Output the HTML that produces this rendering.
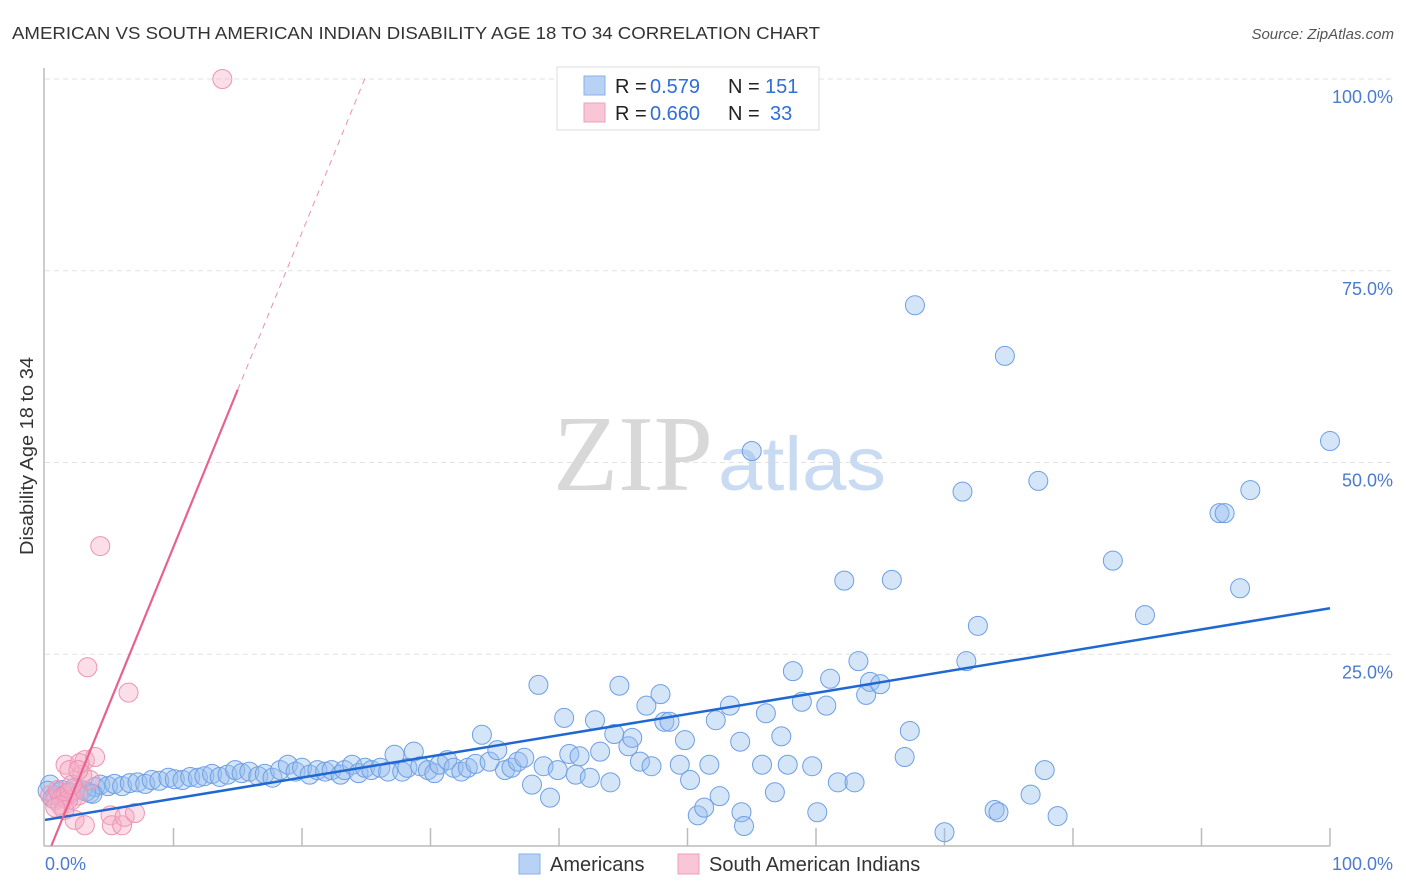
<!DOCTYPE html>
<html><head><meta charset="utf-8"><style>
body{margin:0;background:#fff;font-family:"Liberation Sans",sans-serif;}
#wrap{position:relative;width:1406px;height:892px;overflow:hidden;}
</style></head><body>
<div id="wrap">
<svg id="svg" width="1406" height="892" xmlns="http://www.w3.org/2000/svg">
<text x="12" y="39" font-size="17.5" fill="#333" textLength="808" lengthAdjust="spacingAndGlyphs">AMERICAN VS SOUTH AMERICAN INDIAN DISABILITY AGE 18 TO 34 CORRELATION CHART</text>
<text x="1394" y="39" font-size="15" fill="#555" font-style="italic" text-anchor="end">Source: ZipAtlas.com</text>
<text x="33" y="456" font-size="18" fill="#333" text-anchor="middle" textLength="198" lengthAdjust="spacingAndGlyphs" transform="rotate(-90 33 456)">Disability Age 18 to 34</text>
<g id="grid"></g>
<text x="553" y="490" font-size="108" fill="#d8d8d8" font-family="Liberation Serif,serif" textLength="160" lengthAdjust="spacingAndGlyphs">ZIP</text>
<text x="718" y="490" font-size="76" fill="#c9daf3" textLength="168" lengthAdjust="spacingAndGlyphs">atlas</text>
<g id="marks"></g>
<g>
<rect x="557" y="67" width="262" height="63" fill="#fff" stroke="#ddd"/>
<rect x="584" y="76" width="21" height="19" fill="#b8d2f5" stroke="#8ab0e8"/>
<rect x="584" y="103" width="21" height="19" fill="#f9c6d6" stroke="#ef9fbb"/>
<text x="615" y="93" font-size="20" fill="#222">R = <tspan x="650" fill="#2f6fd6">0.579</tspan></text>
<text x="728" y="93" font-size="20" fill="#222">N = <tspan x="765" fill="#2f6fd6">151</tspan></text>
<text x="615" y="120" font-size="20" fill="#222">R = <tspan x="650" fill="#2f6fd6">0.660</tspan></text>
<text x="728" y="120" font-size="20" fill="#222">N = <tspan x="770" fill="#2f6fd6">33</tspan></text>
</g>
<g>
<rect x="519" y="854" width="21" height="20" fill="#b8d2f5" stroke="#8ab0e8"/>
<text x="550" y="871" font-size="20" fill="#333">Americans</text>
<rect x="678" y="854" width="21" height="20" fill="#f9c6d6" stroke="#ef9fbb"/>
<text x="709" y="871" font-size="20" fill="#333">South American Indians</text>
</g>
<text x="45" y="870" font-size="18" fill="#4a7bd0">0.0%</text>
<text x="1393" y="870" font-size="18" fill="#4a7bd0" text-anchor="end">100.0%</text>
</svg>
</div>
<script>
const yTicks=[25,50,75,100];
const yTickLabels=["25.0%","50.0%","75.0%","100.0%"];
const blueX=[0.4,0.8,1.3,1.8,2.3,2.9,3.5,3.9,4.3,4.9,5.4,6.0,6.6,7.2,7.8,8.3,8.9,9.6,10.1,10.7,11.3,11.9,12.4,13.0,13.6,14.2,14.8,15.3,15.9,16.6,17.1,17.7,18.3,18.9,19.5,20.0,20.6,21.2,21.8,22.3,23.0,23.3,23.9,24.4,24.9,25.4,26.1,26.7,27.2,27.8,28.2,28.7,29.2,29.8,30.3,30.7,31.3,31.8,32.4,32.9,33.5,34.0,34.6,35.2,35.8,36.3,36.8,37.3,37.9,38.4,38.8,39.3,39.9,40.4,40.8,41.3,41.6,42.4,42.8,43.2,44.0,44.3,44.7,45.4,45.7,46.3,46.8,47.2,47.9,48.2,48.6,49.4,49.8,50.2,50.8,51.3,51.7,52.2,52.5,53.3,54.1,54.2,54.4,55.0,55.8,56.1,56.8,57.3,57.8,58.2,58.9,59.7,60.1,60.8,61.1,61.7,62.2,63.0,63.3,63.9,64.2,65.0,65.9,66.9,67.3,67.7,70.0,71.4,71.7,72.6,73.9,74.2,74.7,76.7,77.3,77.8,78.8,83.1,85.6,91.4,91.8,93.0,93.8,100,0.2,0.6,1.1,1.5,2.0,3.2,3.7];
const blueY=[8.0,6.6,7.3,7.0,7.6,7.3,6.9,7.7,8.0,7.8,8.1,7.8,8.2,8.3,8.1,8.6,8.5,8.9,8.7,8.6,9.0,8.9,9.1,9.4,9.0,9.3,9.9,9.5,9.7,9.1,9.4,8.9,9.9,10.6,9.7,10.2,9.3,9.9,9.7,9.9,9.3,9.9,10.6,9.5,10.2,9.9,10.2,9.7,11.9,9.7,10.2,12.3,10.4,9.9,9.5,10.6,11.2,10.2,9.7,10.2,10.7,14.5,11.0,12.5,9.9,10.2,11.0,11.5,8.0,21.0,10.4,6.3,9.9,16.7,12.0,9.3,11.7,8.9,16.4,12.3,8.3,14.6,20.9,13.0,14.1,11.0,18.3,10.4,19.8,16.2,16.2,10.6,13.8,8.6,4.0,5.0,10.6,16.4,6.5,18.3,13.6,4.4,2.6,51.5,10.6,17.3,7.0,14.3,10.6,22.8,18.8,10.4,4.4,18.3,21.8,8.3,34.6,8.3,24.1,19.7,21.4,21.1,34.7,11.6,15.0,70.5,1.8,46.2,24.1,28.7,4.7,4.4,63.9,6.7,47.6,9.9,3.9,37.2,30.1,43.4,43.4,33.6,46.4,52.8,7.2,6.2,7.0,6.6,6.9,7.1,6.8];
const pinkX=[0.4,0.8,1.0,1.3,1.6,1.9,2.1,2.3,2.6,2.9,3.1,3.3,3.5,3.9,4.3,1.6,1.9,2.7,2.3,3.1,5.1,5.2,6.0,6.2,6.5,7.0,1.8,2.1,1.2,1.5,0.8,13.8,2.6];
const pinkY=[6.6,6.0,7.3,6.3,6.6,7.0,6.0,7.3,6.6,9.3,11.2,23.3,8.6,11.6,39.1,10.6,9.9,10.8,3.4,2.7,4.0,2.7,2.7,3.8,20.0,4.3,6.0,8.0,5.3,4.7,5.0,100,9.9];
const blueTrend=[3.4,31.0];
const pinkTrend={slope:4.1,intercept:-2};
const X=v=>45+v*12.85, Y=v=>846-v*7.67;
const NS="http://www.w3.org/2000/svg";
const grid=document.getElementById('grid'), marks=document.getElementById('marks'), svg=document.getElementById('svg');
function mk(tag,attrs,parent){const e=document.createElementNS(NS,tag);for(const k in attrs)e.setAttribute(k,attrs[k]);parent.appendChild(e);return e;}
yTicks.forEach((t,i)=>{
  const l=mk('line',{x1:45,x2:1394,y1:Y(t),y2:Y(t),stroke:'#e2e2e2','stroke-dasharray':'5,4'},grid);
  
  
  const tx=mk('text',{x:1393,y:Y(t)+24,'font-size':18,fill:'#4a7bd0','text-anchor':'end'},svg);
  tx.textContent=yTickLabels[i];
  
  
});
const ax=mk('line',{x1:44,x2:44,y1:68,y2:846,stroke:'#bbb','stroke-width':1.5},grid);


const bx=mk('line',{x1:44,x2:1330,y1:846,y2:846,stroke:'#bbb','stroke-width':1.5},grid);


for(let i=1;i<=10;i++){const t=mk('line',{x1:X(i*10),x2:X(i*10),y1:828,y2:846,stroke:'#bbb','stroke-width':1.5},grid);

}
blueX.forEach((x,i)=>{const c=mk('circle',{cx:X(x),cy:Y(blueY[i]),r:9.5,fill:'rgba(150,189,238,0.4)',stroke:'#6e9fe3','stroke-width':1},marks);

});
pinkX.forEach((x,i)=>{const c=mk('circle',{cx:X(x),cy:Y(pinkY[i]),r:9.5,fill:'rgba(246,172,198,0.4)',stroke:'#ee93b4','stroke-width':1},marks);

});
const bl=mk('line',{x1:X(0),y1:Y(blueTrend[0]),x2:X(100),y2:Y(blueTrend[1]),stroke:'#1f67d2','stroke-width':2.5},marks);


const pf=x=>pinkTrend.intercept+pinkTrend.slope*x;
const pl=mk('line',{x1:X(0.5),y1:Y(pf(0.5)),x2:X(15),y2:Y(pf(15)),stroke:'#e8628e','stroke-width':2.2},marks);


const pd=mk('line',{x1:X(15),y1:Y(pf(15)),x2:X(25),y2:Y(pf(25)),stroke:'#eb8fae','stroke-width':1,'stroke-dasharray':'6,5'},marks);


</script>
</body></html>
